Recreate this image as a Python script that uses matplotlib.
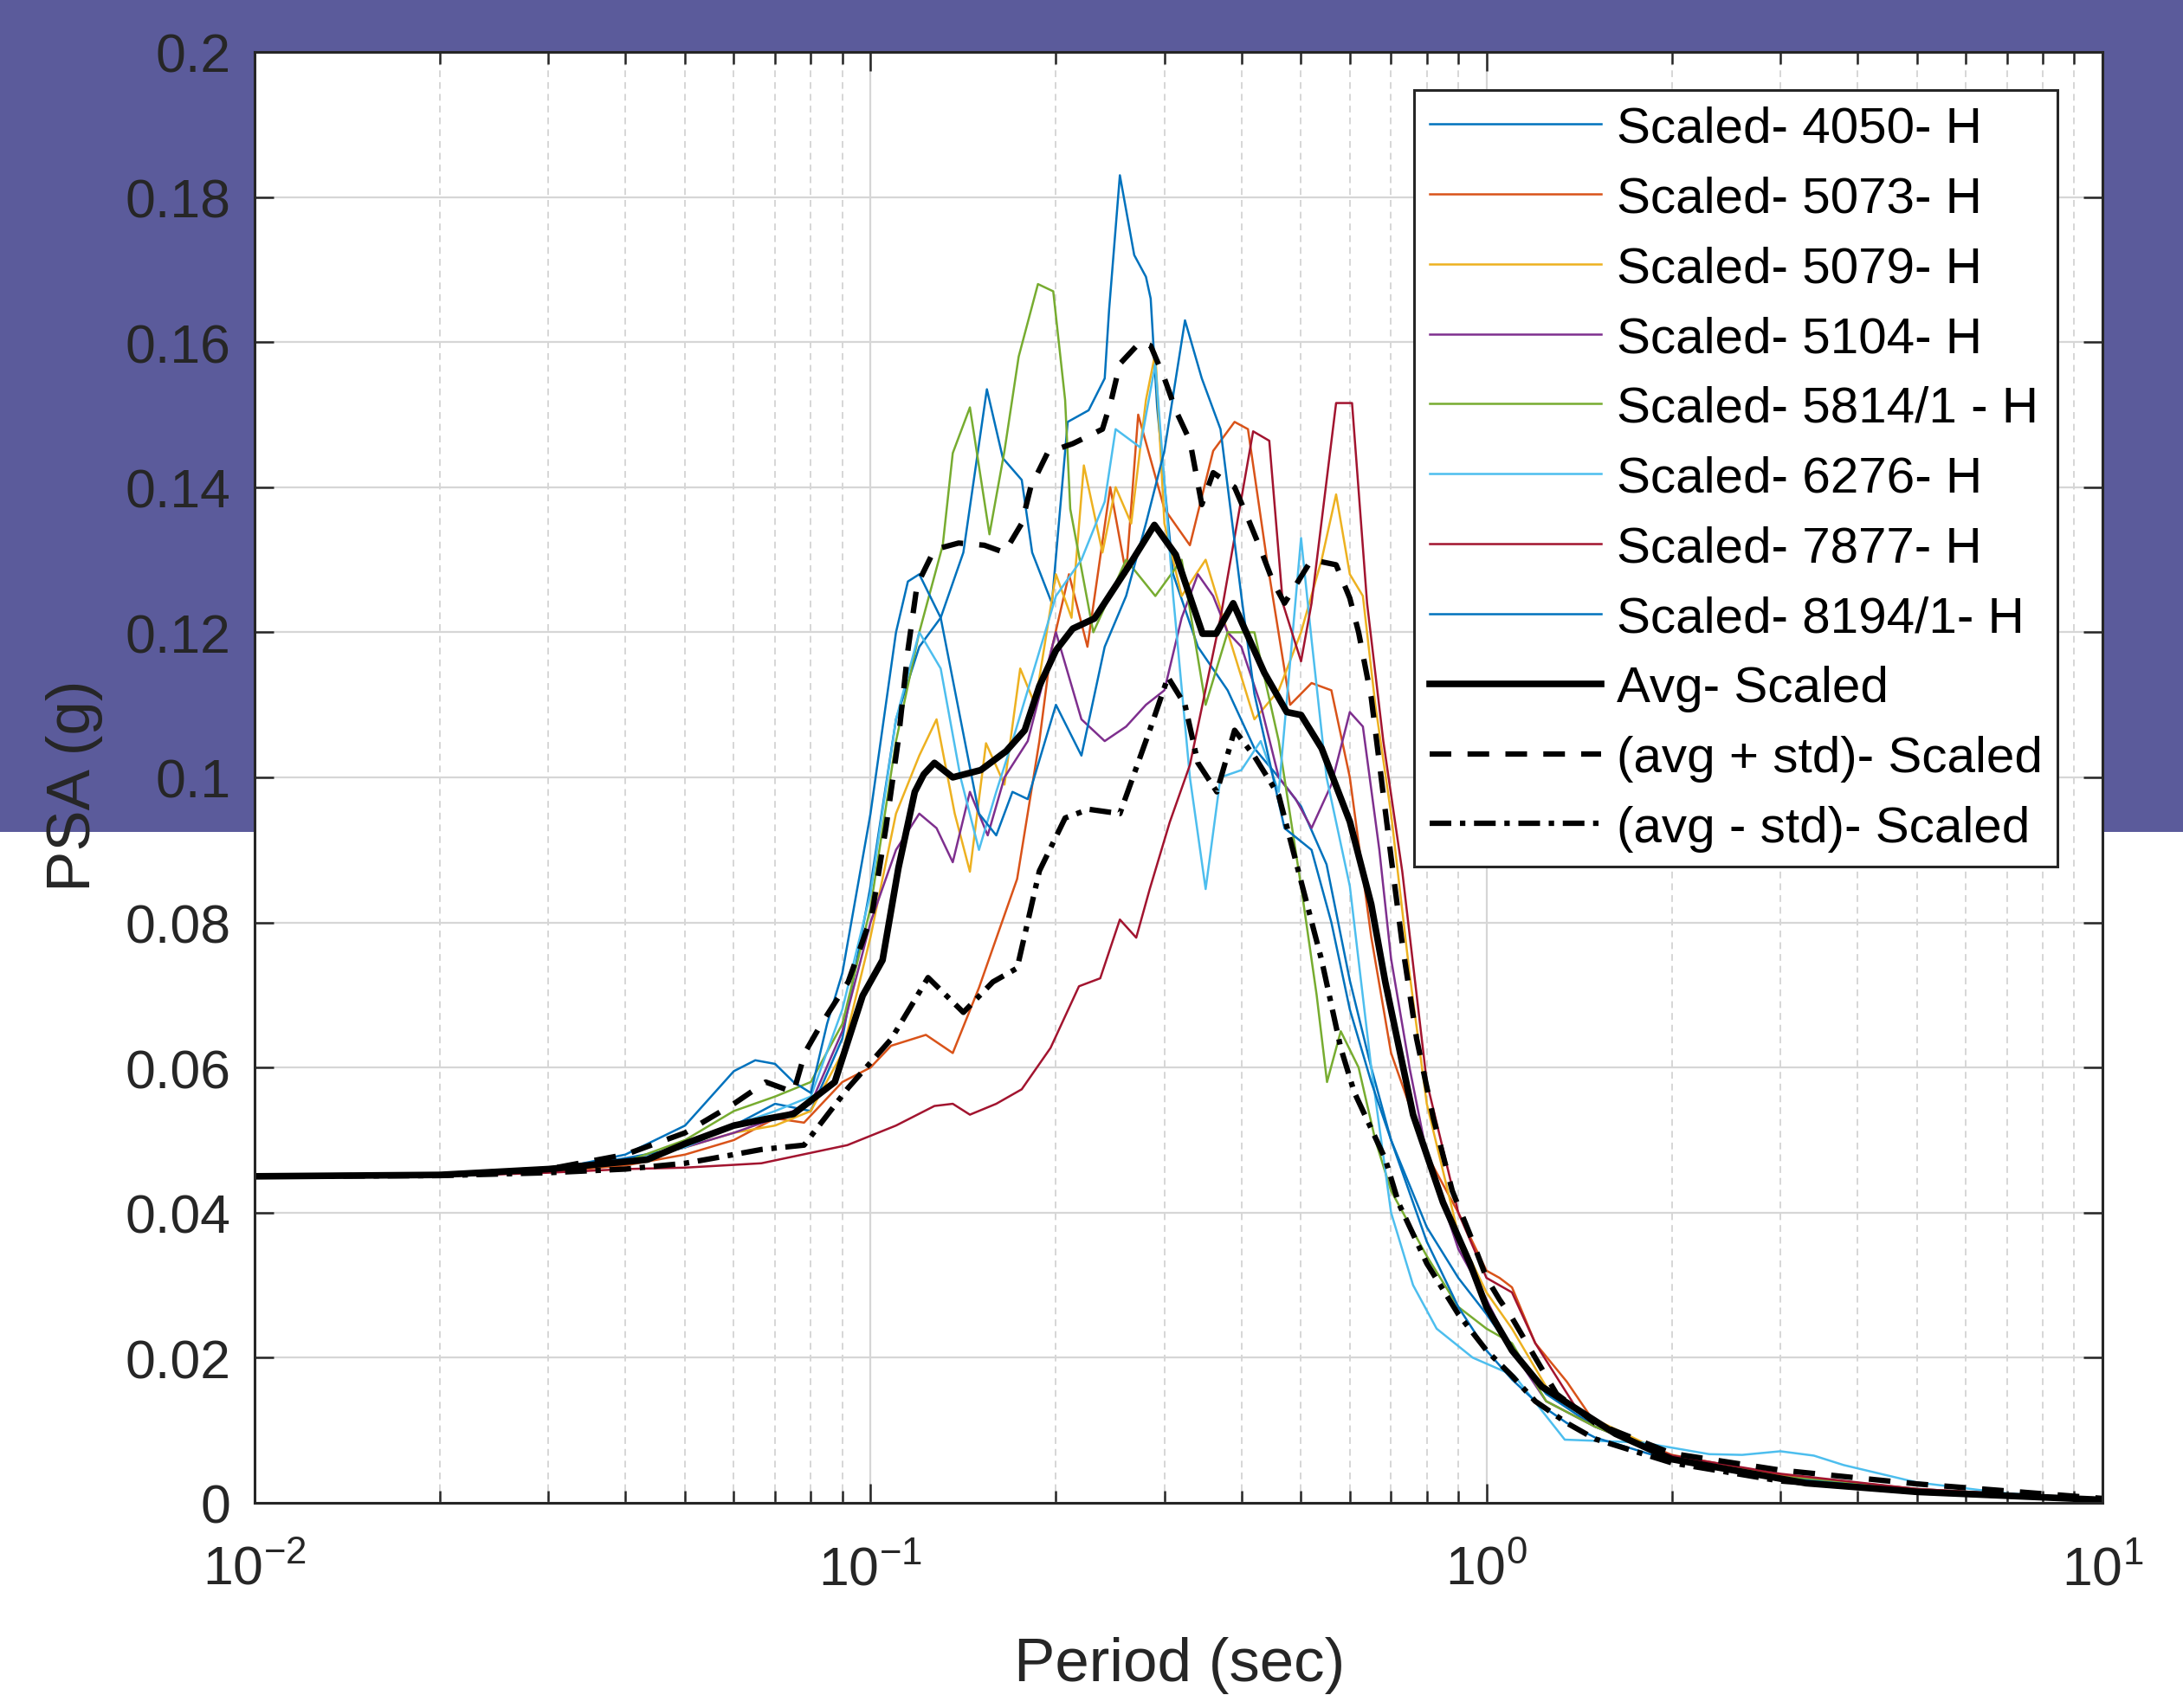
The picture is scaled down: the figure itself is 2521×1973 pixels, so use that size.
import matplotlib
matplotlib.use('Agg')
import matplotlib.pyplot as plt
from matplotlib.patches import Rectangle
from matplotlib.ticker import LogLocator, NullLocator

plt.rcParams['font.family'] = ['Liberation Sans', 'DejaVu Sans']
plt.rcParams['mathtext.default'] = 'regular'
plt.rcParams['axes.unicode_minus'] = False

# ---- data (period in sec, PSA in g) ----
T_4050 = [0.01, 0.02, 0.03, 0.04, 0.05, 0.06, 0.07, 0.08, 0.09, 0.1, 0.11, 0.12, 0.13, 0.1415, 0.1545,
          0.164, 0.176, 0.183, 0.197, 0.209, 0.226, 0.24, 0.244, 0.254, 0.268, 0.28, 0.285, 0.292, 0.31,
          0.34, 0.38, 0.42, 0.46, 0.5, 0.55, 0.6, 0.65, 0.7, 0.8, 0.9, 1.0, 1.1, 1.25, 1.5, 2.0, 3.0, 5.0, 10.0]
psa_4050 = [0.045, 0.0452, 0.0458, 0.0475, 0.049, 0.052, 0.055, 0.054, 0.064, 0.085, 0.108, 0.118, 0.122,
            0.131, 0.1535, 0.144, 0.141, 0.131, 0.124, 0.149, 0.1506, 0.155, 0.1645, 0.183, 0.172, 0.169,
            0.166, 0.151, 0.128, 0.118, 0.112, 0.104, 0.10, 0.096, 0.088, 0.072, 0.06, 0.05, 0.038, 0.031,
            0.026, 0.021, 0.015, 0.0105, 0.0065, 0.0037, 0.0019, 0.0005]

T_5073 = [0.01, 0.02, 0.03, 0.04, 0.05, 0.06, 0.07, 0.078, 0.09, 0.1, 0.108, 0.123, 0.136, 0.15, 0.173,
          0.188, 0.196, 0.21, 0.225, 0.245, 0.26, 0.272, 0.3, 0.33, 0.36, 0.39, 0.41, 0.44, 0.48, 0.52,
          0.56, 0.6, 0.65, 0.7, 0.8, 0.9, 1.0, 1.05, 1.1, 1.2, 1.35, 1.5, 2.0, 3.0, 5.0, 10.0]
psa_5073 = [0.045, 0.0452, 0.0456, 0.0465, 0.048, 0.05, 0.053, 0.0524, 0.058, 0.06, 0.063, 0.0645, 0.062,
            0.071, 0.086, 0.105, 0.117, 0.128, 0.118, 0.14, 0.128, 0.15, 0.137, 0.132, 0.145, 0.149, 0.148,
            0.13, 0.11, 0.113, 0.112, 0.1, 0.078, 0.062, 0.048, 0.04, 0.032, 0.031, 0.0297, 0.022, 0.0167,
            0.011, 0.0066, 0.0038, 0.0019, 0.0005]

T_5079 = [0.01, 0.02, 0.03, 0.04, 0.05, 0.06, 0.07, 0.08, 0.09, 0.1, 0.11, 0.12, 0.128, 0.137, 0.145,
          0.154, 0.165, 0.175, 0.185, 0.2, 0.212, 0.222, 0.238, 0.25, 0.265, 0.28, 0.29, 0.30, 0.32, 0.35,
          0.38, 0.42, 0.46, 0.5, 0.54, 0.57, 0.6, 0.63, 0.66, 0.7, 0.75, 0.8, 0.9, 1.0, 1.1, 1.25, 1.5,
          2.0, 3.0, 5.0, 10.0]
psa_5079 = [0.045, 0.0452, 0.0458, 0.047, 0.049, 0.051, 0.052, 0.054, 0.062, 0.078, 0.095, 0.103, 0.108,
            0.095, 0.087, 0.1047, 0.099, 0.115, 0.11, 0.128, 0.122, 0.143, 0.131, 0.14, 0.135, 0.152, 0.1585,
            0.135, 0.125, 0.13, 0.12, 0.108, 0.112, 0.12, 0.13, 0.139, 0.128, 0.125, 0.11, 0.095, 0.073,
            0.055, 0.037, 0.029, 0.024, 0.016, 0.0115, 0.0064, 0.0036, 0.0018, 0.0005]

T_5104 = [0.01, 0.02, 0.03, 0.04, 0.05, 0.06, 0.07, 0.08, 0.09, 0.1, 0.11, 0.12, 0.128, 0.136, 0.145,
          0.155, 0.165, 0.18, 0.2, 0.22, 0.24, 0.26, 0.28, 0.3, 0.32, 0.34, 0.36, 0.38, 0.4, 0.43, 0.46,
          0.49, 0.52, 0.56, 0.6, 0.63, 0.67, 0.7, 0.75, 0.8, 0.9, 1.0, 1.1, 1.25, 1.5, 2.0, 3.0, 5.0, 10.0]
psa_5104 = [0.045, 0.0452, 0.0458, 0.047, 0.049, 0.051, 0.053, 0.055, 0.065, 0.08, 0.09, 0.095, 0.093,
            0.0883, 0.098, 0.092, 0.1, 0.105, 0.12, 0.108, 0.105, 0.107, 0.11, 0.112, 0.122, 0.128, 0.125,
            0.12, 0.118, 0.11, 0.1, 0.097, 0.093, 0.099, 0.109, 0.107, 0.09, 0.075, 0.06, 0.048, 0.035,
            0.028, 0.021, 0.014, 0.0105, 0.0062, 0.0036, 0.0018, 0.0005]

T_5814 = [0.01, 0.02, 0.03, 0.04, 0.05, 0.06, 0.07, 0.08, 0.09, 0.1, 0.11, 0.12, 0.131, 0.136, 0.145,
          0.156, 0.165, 0.174, 0.187, 0.198, 0.207, 0.211, 0.23, 0.26, 0.29, 0.32, 0.35, 0.38, 0.42, 0.46,
          0.5, 0.53, 0.551, 0.58, 0.62, 0.66, 0.7, 0.8, 0.9, 1.0, 1.1, 1.25, 1.5, 2.0, 3.0, 5.0, 10.0]
psa_5814 = [0.045, 0.0452, 0.0458, 0.047, 0.05, 0.054, 0.056, 0.058, 0.066, 0.082, 0.105, 0.12, 0.132,
            0.1447, 0.151, 0.1335, 0.145, 0.158, 0.168, 0.167, 0.152, 0.137, 0.12, 0.13, 0.125, 0.13, 0.11,
            0.12, 0.12, 0.105, 0.085, 0.07, 0.058, 0.065, 0.06, 0.05, 0.043, 0.034, 0.027, 0.024, 0.022,
            0.014, 0.0105, 0.0062, 0.0036, 0.0018, 0.0005]

T_6276 = [0.01, 0.02, 0.03, 0.04, 0.05, 0.06, 0.07, 0.08, 0.09, 0.1, 0.11, 0.12, 0.13, 0.14, 0.15, 0.16,
          0.17, 0.18, 0.2, 0.22, 0.24, 0.25, 0.274, 0.29, 0.31, 0.33, 0.35, 0.37, 0.4, 0.43, 0.46, 0.5,
          0.52, 0.55, 0.6, 0.65, 0.7, 0.76, 0.83, 0.95, 1.11, 1.34, 1.79, 2.3, 2.6, 3.0, 3.4, 3.8, 5.0,
          7.0, 10.0]
psa_6276 = [0.045, 0.0452, 0.0458, 0.047, 0.049, 0.052, 0.054, 0.056, 0.068, 0.084, 0.108, 0.12, 0.115,
            0.1, 0.09, 0.098, 0.105, 0.112, 0.125, 0.13, 0.138, 0.148, 0.1455, 0.157, 0.125, 0.1, 0.0846,
            0.1, 0.101, 0.105, 0.098, 0.133, 0.119, 0.1, 0.085, 0.06, 0.04, 0.03, 0.024, 0.02, 0.0175,
            0.0087, 0.0083, 0.0067, 0.0066, 0.0071, 0.0065, 0.0052, 0.0028, 0.0013, 0.0005]

T_7877 = [0.01, 0.02, 0.03, 0.04, 0.05, 0.0665, 0.0917, 0.11, 0.127, 0.136, 0.145, 0.16, 0.176, 0.196,
          0.218, 0.236, 0.254, 0.27, 0.284, 0.306, 0.33, 0.37, 0.418, 0.444, 0.467, 0.5, 0.52, 0.57, 0.605,
          0.64, 0.68, 0.73, 0.8, 0.9, 1.0, 1.1, 1.2, 1.4, 1.6, 2.0, 3.0, 5.0, 10.0]
psa_7877 = [0.045, 0.045, 0.0455, 0.046, 0.0462, 0.0468, 0.0493, 0.052, 0.0547, 0.055, 0.0535, 0.055,
            0.057, 0.0627, 0.0712, 0.0723, 0.0804, 0.0779, 0.0846, 0.0938, 0.1017, 0.122, 0.1477, 0.1464,
            0.124, 0.116, 0.124, 0.1516, 0.1516, 0.124, 0.105, 0.087, 0.058, 0.04, 0.031, 0.029, 0.022,
            0.013, 0.0095, 0.0065, 0.004, 0.0019, 0.0005]

T_8194 = [0.01, 0.02, 0.03, 0.04, 0.05, 0.06, 0.065, 0.07, 0.075, 0.08, 0.085, 0.09, 0.1, 0.11, 0.115,
          0.12, 0.13, 0.14, 0.15, 0.16, 0.17, 0.18, 0.2, 0.22, 0.24, 0.26, 0.28, 0.3, 0.324, 0.345, 0.37,
          0.4, 0.42, 0.47, 0.52, 0.56, 0.6, 0.65, 0.7, 0.8, 0.9, 1.0, 1.1, 1.2, 1.35, 1.5, 2.0, 3.0, 5.0, 10.0]
psa_8194 = [0.045, 0.0452, 0.0458, 0.048, 0.052, 0.0595, 0.061, 0.0605, 0.058, 0.0565, 0.066, 0.073,
            0.095, 0.12, 0.127, 0.128, 0.122, 0.108, 0.095, 0.092, 0.098, 0.097, 0.11, 0.103, 0.118, 0.125,
            0.135, 0.145, 0.163, 0.155, 0.148, 0.125, 0.1115, 0.093, 0.09, 0.08, 0.068, 0.058, 0.05, 0.036,
            0.027, 0.021, 0.017, 0.014, 0.011, 0.009, 0.0058, 0.0034, 0.0017, 0.0005]

T_avg = [0.01, 0.02, 0.03, 0.0434, 0.05, 0.06, 0.0676, 0.075, 0.0875, 0.0971, 0.1046, 0.111, 0.118, 0.122,
         0.127, 0.136, 0.151, 0.166, 0.178, 0.188, 0.2, 0.213, 0.231, 0.262, 0.289, 0.313, 0.346, 0.364,
         0.388, 0.436, 0.474, 0.5, 0.54, 0.6, 0.65, 0.685, 0.76, 0.85, 0.94, 1.0, 1.1, 1.23, 1.62, 2.0,
         3.3, 5.0, 10.0]
psa_avg = [0.045, 0.0452, 0.046, 0.0473, 0.0495, 0.052, 0.0529, 0.0536, 0.058, 0.0699, 0.0748, 0.0875,
           0.098, 0.1004, 0.102, 0.100, 0.101, 0.1036, 0.1065, 0.1126, 0.1175, 0.1205, 0.1219, 0.129, 0.1348,
           0.1307, 0.1198, 0.1198, 0.124, 0.1144, 0.109, 0.1086, 0.104, 0.0939, 0.0825, 0.0718, 0.0535,
           0.0414, 0.033, 0.027, 0.021, 0.016, 0.0095, 0.006, 0.0027, 0.0015, 0.0004]

T_hi = [0.01, 0.02, 0.03, 0.04, 0.05, 0.06, 0.0676, 0.075, 0.0783, 0.0832, 0.092, 0.1005, 0.106, 0.111,
        0.115, 0.119, 0.127, 0.139, 0.153, 0.165, 0.176, 0.182, 0.194, 0.213, 0.238, 0.246, 0.254, 0.274,
        0.285, 0.30, 0.313, 0.33, 0.345, 0.36, 0.39, 0.41, 0.43, 0.45, 0.47, 0.52, 0.57, 0.6, 0.62, 0.65,
        0.67, 0.7, 0.73, 0.77, 0.82, 0.88, 0.94, 1.0, 1.05, 1.1, 1.2, 1.3, 1.5, 2.0, 3.0, 5.0, 10.0]
psa_hi = [0.045, 0.0452, 0.046, 0.048, 0.051, 0.055, 0.058, 0.0566, 0.0621, 0.066, 0.0718, 0.081, 0.0932,
          0.1053, 0.1175, 0.1265, 0.1314, 0.1323, 0.132, 0.131, 0.135, 0.140, 0.1448, 0.146, 0.148, 0.152,
          0.157, 0.160, 0.1595, 0.155, 0.1506, 0.1464, 0.1376, 0.142, 0.140, 0.1357, 0.1314, 0.127, 0.124,
          0.130, 0.1293, 0.1247, 0.12, 0.111, 0.102, 0.089, 0.077, 0.064, 0.053, 0.043, 0.037, 0.031,
          0.028, 0.0255, 0.02, 0.015, 0.011, 0.0068, 0.0045, 0.0026, 0.0006]

T_lo = [0.01, 0.02, 0.03, 0.04, 0.05, 0.06, 0.0665, 0.078, 0.092, 0.108, 0.117, 0.124, 0.1415, 0.158,
        0.173, 0.188, 0.207, 0.226, 0.254, 0.284, 0.304, 0.324, 0.34, 0.365, 0.39, 0.42, 0.46, 0.495, 0.54,
        0.58, 0.61, 0.685, 0.72, 0.8, 0.9, 1.0, 1.1, 1.2, 1.35, 1.5, 2.0, 3.0, 5.0, 10.0]
psa_lo = [0.045, 0.0451, 0.0455, 0.046, 0.0468, 0.048, 0.0487, 0.0493, 0.0572, 0.0639, 0.0688, 0.0724,
          0.0676, 0.0718, 0.0737, 0.0871, 0.0944, 0.0956, 0.095, 0.1065, 0.1138, 0.110, 0.102, 0.098,
          0.1065, 0.1029, 0.0975, 0.0871, 0.0748, 0.0627, 0.0566, 0.0474, 0.0413, 0.033, 0.026, 0.021,
          0.0175, 0.014, 0.011, 0.0088, 0.0055, 0.003, 0.0015, 0.0004]

labels = ['Scaled- 4050- H', 'Scaled- 5073- H', 'Scaled- 5079- H', 'Scaled- 5104- H',
          'Scaled- 5814/1 - H', 'Scaled- 6276- H', 'Scaled- 7877- H', 'Scaled- 8194/1- H',
          'Avg- Scaled', '(avg + std)- Scaled', '(avg - std)- Scaled']
y_ticks = [0, 0.02, 0.04, 0.06, 0.08, 0.1, 0.12, 0.14, 0.16, 0.18, 0.2]
y_ticklabels = ['0', '0.02', '0.04', '0.06', '0.08', '0.1', '0.12', '0.14', '0.16', '0.18', '0.2']

# matlab default colour order
colors = [(0, 0.447, 0.741), (0.85, 0.325, 0.098), (0.929, 0.694, 0.125), (0.494, 0.184, 0.556),
          (0.466, 0.674, 0.188), (0.301, 0.745, 0.933), (0.635, 0.078, 0.184), (0, 0.447, 0.741)]

records = [(T_4050, psa_4050), (T_5073, psa_5073), (T_5079, psa_5079), (T_5104, psa_5104),
           (T_5814, psa_5814), (T_6276, psa_6276), (T_7877, psa_7877), (T_8194, psa_8194)]

fig = plt.figure(figsize=(25.21, 19.74), dpi=100)
# purple band behind the top half of the figure
band = Rectangle((0, 0.5127), 1, 0.4873, transform=fig.transFigure,
                 facecolor='#5b5b9b', edgecolor='none', zorder=-10)
fig.add_artist(band)
ax = fig.add_axes([0.1166, 0.1201, 0.8465, 0.849])
ax.set_zorder(5)

for (T, v), c, lab in zip(records, colors, labels[:8]):
    ax.plot(T, v, color=c, lw=1.8, label=lab)

ax.plot(T_avg, psa_avg, color='k', lw=5.5, label=labels[8])
ax.plot(T_hi, psa_hi, color='k', lw=4.5, dashes=(4, 3), label=labels[9])
ax.plot(T_lo, psa_lo, color='k', lw=4.5, dashes=(4, 1.6, 1, 1.6), label=labels[10])

ax.set_xscale('log')
ax.set_xlim(0.01, 10)
ax.set_ylim(0, 0.2)
ax.set_yticks(y_ticks)
ax.set_yticklabels(y_ticklabels)
ax.yaxis.set_minor_locator(NullLocator())
ax.xaxis.set_major_locator(LogLocator(base=10, numticks=10))

ax.set_axisbelow(True)
ax.grid(True, which='major', color='#d6d6d6', lw=1.6, ls='-')
ax.grid(True, which='minor', axis='x', color='#d6d6d6', lw=1.4, ls=(0, (4, 3)))

ax.tick_params(which='both', direction='in', top=True, right=True, width=1.8, color='#262626')
ax.tick_params(which='major', length=16, labelsize=45, labelcolor='#262626')
ax.tick_params(which='minor', length=10)
ax.tick_params(axis='x', pad=34)
ax.tick_params(axis='y', pad=20)
for s in ax.spines.values():
    s.set_linewidth(2.2)
    s.set_color('#262626')

ax.set_xlabel('Period (sec)', fontsize=51, color='#262626')
ax.set_ylabel('PSA (g)', fontsize=51, color='#262626')
ax.xaxis.set_label_coords(0.5005, -0.092)
ax.yaxis.set_label_coords(-0.082, 0.4946)

leg = ax.legend(loc='upper right', bbox_to_anchor=(0.9756, 0.9737), borderaxespad=0, fontsize=42,
                handlelength=3.4, handletextpad=0.3, labelspacing=0.46, borderpad=0.3, frameon=True,
                fancybox=False, edgecolor='#262626', framealpha=1)
leg.get_frame().set_linewidth(2.2)

fig.savefig('out.png', dpi=100)
